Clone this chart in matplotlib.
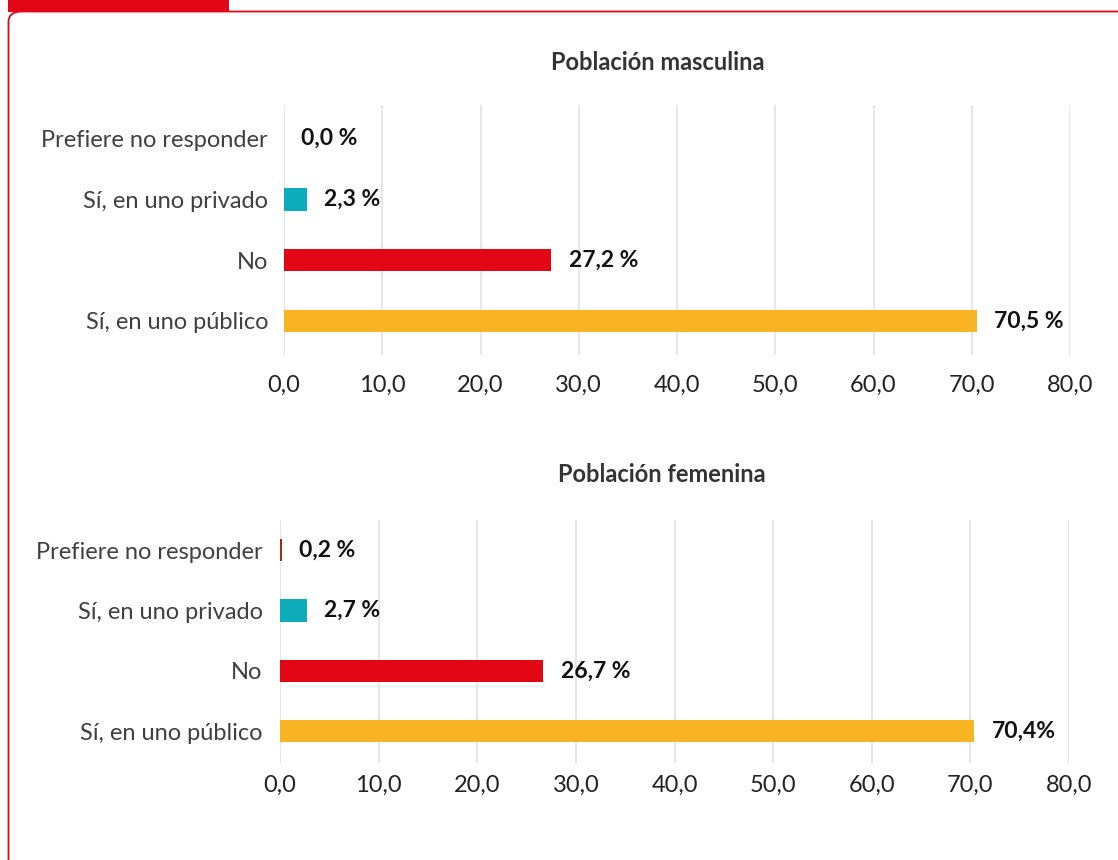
import matplotlib.pyplot as plt
from matplotlib.patches import Rectangle, FancyBboxPatch

plt.rcParams['font.family'] = ['Lato', 'DejaVu Sans']

categorias = ['Sí, en uno público', 'No', 'Sí, en uno privado', 'Prefiere no responder']
colores = ['#F8B423', '#E30615', '#0EACBA', '#A8281C']

masc = [70.5, 27.2, 2.3, 0.0]
masc_txt = ['70,5 %', '27,2 %', '2,3 %', '0,0 %']
fem = [70.4, 26.7, 2.7, 0.2]
fem_txt = ['70,4%', '26,7 %', '2,7 %', '0,2 %']

ticks = [0, 10, 20, 30, 40, 50, 60, 70, 80]
tick_txt = ['0,0', '10,0', '20,0', '30,0', '40,0', '50,0', '60,0', '70,0', '80,0']

fig = plt.figure(figsize=(11.18, 8.6), dpi=100)

# marco rojo
fig.patches.append(FancyBboxPatch((8.5 / 1118, -0.2), 1.2, 1.2 - 11.5 / 860,
                                  boxstyle='round,pad=0,rounding_size=0.012',
                                  transform=fig.transFigure, fill=False,
                                  edgecolor='#E30615', linewidth=1.3, zorder=0))
fig.patches.append(Rectangle((8 / 1118, 1 - 12 / 860), 221 / 1118, 12 / 860,
                             transform=fig.transFigure, facecolor='#E30615',
                             edgecolor='none', zorder=1))


def panel(rect, vals, txts, titulo, tx, ylim, ypad, xpad, tpad):
    ax = fig.add_axes(rect)
    y = range(len(categorias))
    ax.barh(y, vals, height=0.37, color=colores, zorder=3)
    for i, (v, t) in enumerate(zip(vals, txts)):
        ax.annotate(t, (v, i), xytext=(12.5, 0), textcoords='offset points',
                    va='center', ha='left', fontsize=16.5, fontweight='bold',
                    color='#111111')
    ax.set_xlim(0, 80)
    ax.set_ylim(*ylim)
    ax.set_xticks(ticks)
    ax.set_xticklabels(tick_txt)
    ax.set_yticks(list(y))
    ax.set_yticklabels(categorias)
    ax.tick_params(axis='x', length=0, pad=xpad, labelsize=17, labelcolor='#222222')
    ax.tick_params(axis='y', length=0, pad=ypad, labelsize=17, labelcolor='#404040')
    ax.grid(axis='x', color='#E2E2E2', linewidth=1.2, zorder=0)
    for s in ax.spines.values():
        s.set_visible(False)
    ax.set_title(titulo, fontsize=17, fontweight='bold', color='#333333',
                 pad=tpad, x=tx)
    return ax


panel([284 / 1118, 1 - 355 / 860, 786 / 1118, 250 / 860], masc, masc_txt,
      'Población masculina', 0.476, (-0.56, 3.55), 11.5, 14, 25)
panel([280 / 1118, 1 - 763 / 860, 789 / 1118, 243 / 860], fem, fem_txt,
      'Población femenina', 0.484, (-0.53, 3.5), 12.5, 8.5, 27.5)

plt.savefig('out.png', dpi=100)
